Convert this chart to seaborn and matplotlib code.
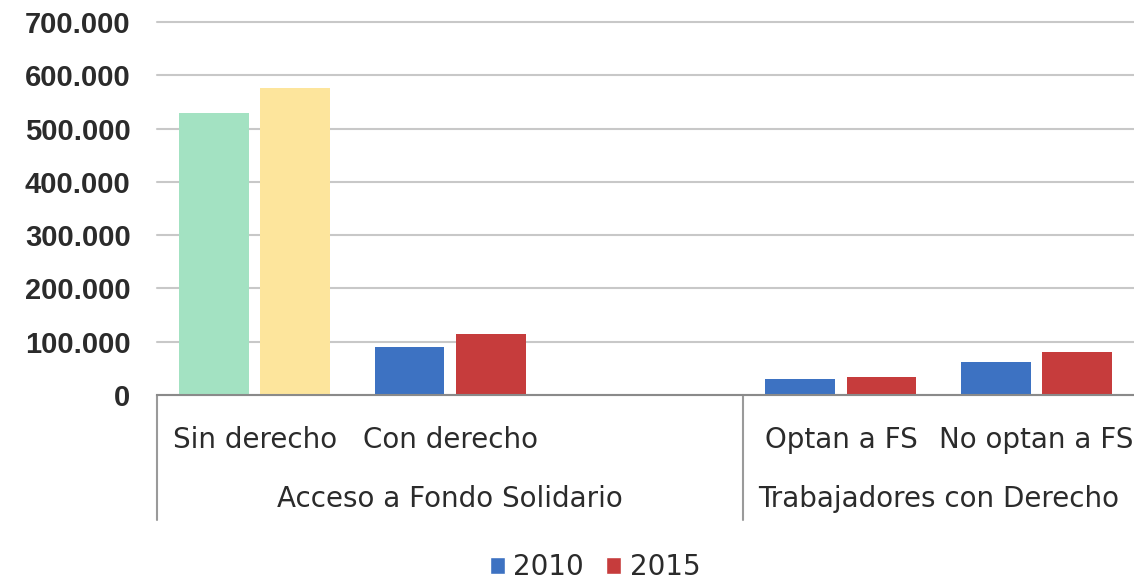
import matplotlib
matplotlib.use("Agg")
import matplotlib.pyplot as plt
from matplotlib.lines import Line2D
from matplotlib.patches import Patch
from matplotlib.ticker import FuncFormatter, MultipleLocator
import seaborn as sns
import pandas as pd

# Data
categories = ["Sin derecho", "Con derecho", "Optan a FS", "No optan a FS"]
slot_order = ["Sin derecho", "Con derecho", " ", "Optan a FS", "No optan a FS"]
groups = ["Acceso a Fondo Solidario", "Trabajadores con Derecho"]
years = ["2010", "2015"]
values_2010 = [529000, 90000, 30000, 62000]
values_2015 = [576000, 114000, 34000, 81000]

blue = "#3d72c2"
red = "#c63c3c"
green = "#a3e2c2"
yellow = "#fde59c"
text_color = "#2b2b2b"

df = pd.DataFrame({
    "categoria": categories * 2,
    "anio": [years[0]] * 4 + [years[1]] * 4,
    "valor": values_2010 + values_2015,
})

sns.set_style("white")
plt.rcParams["font.family"] = ["Liberation Sans Narrow", "DejaVu Sans"]

fig = plt.figure(figsize=(11.34, 5.83), dpi=100)
ax = fig.add_axes([157 / 1134, (583 - 395) / 583, (1134 - 157) / 1134, 373 / 583])

sns.barplot(data=df, x="categoria", y="valor", hue="anio", order=slot_order,
            hue_order=years, palette=[blue, red], width=0.83, gap=0.14,
            saturation=1, errorbar=None, legend=False, linewidth=0, ax=ax)

# the first category is highlighted in its own colours
ax.containers[0][0].set_facecolor(green)
ax.containers[1][0].set_facecolor(yellow)

ax.set_ylim(0, 700000)
ax.set_xlim(-0.5, 4.5)
ax.yaxis.set_major_locator(MultipleLocator(100000))
ax.yaxis.set_major_formatter(FuncFormatter(lambda v, p: f"{int(v):,}".replace(",", ".")))
ax.grid(axis="y", color="#c8c8c8", lw=1.5)
for gl in ax.get_ygridlines():
    gl.set_clip_on(False)
ax.set_axisbelow(True)
ax.set_xlabel("")
ax.set_ylabel("")
for s in ["top", "right", "left"]:
    ax.spines[s].set_visible(False)
ax.spines["bottom"].set_color("#8a8a8a")
ax.spines["bottom"].set_linewidth(1.5)

ax.tick_params(axis="y", length=0, pad=19, labelsize=21, labelcolor=text_color)
for lbl in ax.get_yticklabels():
    lbl.set_fontweight("bold")
    lbl.set_family(["Liberation Sans", "DejaVu Sans"])
ax.tick_params(axis="x", length=0, pad=22, labelsize=20, labelcolor=text_color)

# group separators below the axis
sep_tr = ax.get_xaxis_transform()
for xpos in [-0.5, 2.5]:
    ax.add_line(Line2D([xpos, xpos], [0, -0.335], transform=sep_tr,
                       color="#9a9a9a", lw=1.5, clip_on=False))

ax.text(1.0, -0.28, groups[0], transform=sep_tr, ha="center", va="center",
        fontsize=20, color=text_color)
ax.text(3.5, -0.28, groups[1], transform=sep_tr, ha="center", va="center",
        fontsize=20, color=text_color)

handles = [Patch(facecolor=blue, label=years[0]), Patch(facecolor=red, label=years[1])]
fig.legend(handles=handles, loc="center", bbox_to_anchor=(595 / 1134, 1 - 567 / 583),
           ncol=2, frameon=False, fontsize=20, handlelength=0.55, handleheight=0.55,
           handletextpad=0.3, columnspacing=0.8, labelcolor=text_color)

fig.savefig("out.png", dpi=100)
